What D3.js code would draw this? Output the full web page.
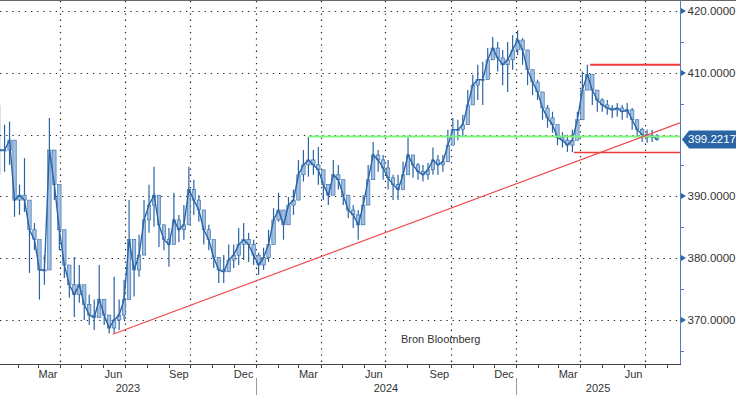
<!DOCTYPE html>
<html>
<head>
<meta charset="utf-8">
<script src="https://cdn.jsdelivr.net/npm/d3@7"></script>
<style>
body { margin: 0; background: #fff; }
svg { display: block; font-family: "Liberation Sans", Arial, sans-serif; }
</style>
</head>
<body>
<svg width="736" height="395"></svg>
<script>
// weekly bars, first week ends Fri 6 Jan 2023
var firstWeek = new Date(2023, 0, 6);
var highs = [404.8,401.6,402.1,393.5,391.9,396.2,388.6,385.7,381.7,380.5,
	402.7,396.7,389.4,382.2,378.1,380.2,378.9,375.2,374.1,373.3,
	378.9,373.3,370.8,377.0,373.3,376.5,389.4,383.0,383.8,389.4,
	391.9,394.8,390.2,385.4,384.9,390.6,387.0,388.6,394.8,392.7,
	390.2,387.0,385.4,382.2,380.1,380.5,382.2,382.2,384.9,385.7,
	384.1,383.0,380.9,381.7,384.6,388.1,390.6,387.8,389.9,391.1,
	395.9,397.5,399.6,397.5,398.0,394.3,391.9,395.9,395.1,392.7,
	390.2,388.6,387.8,390.2,395.1,398.8,397.5,396.7,395.9,393.5,
	393.5,395.6,399.5,396.7,395.4,395.1,395.4,397.9,396.7,396.7,
	400.8,402.7,402.4,403.2,407.2,409.7,411.3,411.8,414.0,415.8,
	415.0,413.7,415.0,416.1,416.9,415.6,412.9,410.5,408.9,406.9,
	404.8,403.7,400.8,400.4,400.0,400.8,403.7,410.2,411.3,409.7,
	407.2,405.9,405.6,404.8,405.1,404.8,405.1,404.3,402.4,401.1,
	400.8,400.8,400.1];
var lows = [393.5,394.0,395.1,386.7,387.0,387.5,377.6,381.3,373.3,375.7,
	383.0,389.4,381.3,376.8,373.6,370.5,372.8,370.0,369.2,368.4,
	370.8,369.2,367.8,367.9,368.4,370.0,373.8,373.8,377.0,381.3,
	384.1,385.1,381.8,381.3,378.6,383.0,382.6,383.0,387.0,387.0,
	385.9,382.2,381.3,378.4,376.0,376.0,377.8,378.4,378.9,379.7,
	379.4,378.9,377.3,378.1,379.4,383.0,385.9,383.0,386.5,387.0,
	390.2,392.4,393.2,393.5,391.9,389.4,388.6,391.1,391.1,388.6,
	386.5,384.9,383.0,385.4,389.4,394.3,394.0,392.7,391.1,389.4,
	389.4,391.1,394.3,393.0,392.7,392.4,392.7,393.5,393.5,394.0,
	395.9,398.7,399.1,399.6,403.2,405.6,405.6,404.8,408.9,412.1,
	410.2,408.0,406.9,410.5,412.9,411.3,408.0,406.4,405.6,402.4,
	401.1,400.3,398.3,397.9,397.2,397.2,400.0,404.3,407.6,404.8,
	403.7,403.7,403.2,402.7,402.9,402.4,402.7,400.8,399.6,398.8,
	398.7,398.8,399.0];
var closes = [397.5,397.5,399.1,389.4,390.2,389.4,384.6,383.0,378.1,378.1,
	397.5,391.9,384.6,378.9,375.7,374.1,375.7,372.5,370.8,370.4,
	373.3,370.8,368.7,370.0,370.8,373.3,383.0,378.1,380.5,386.2,
	388.6,390.2,385.4,383.0,382.2,386.2,384.6,385.4,391.1,389.4,
	387.8,384.6,383.0,380.1,378.1,377.8,379.7,380.5,382.2,383.0,
	382.2,380.5,378.9,380.1,382.2,386.2,387.8,385.4,388.6,389.4,
	393.5,395.1,395.9,395.1,394.3,391.9,390.2,393.5,392.7,390.2,
	387.8,387.0,385.4,388.6,392.7,396.7,395.9,394.6,393.0,391.9,
	391.1,393.5,396.7,395.1,394.0,393.5,394.3,395.9,395.1,395.6,
	398.3,400.8,400.8,401.6,404.8,408.0,408.9,408.9,412.1,414.0,
	412.4,411.3,412.1,413.7,415.3,413.7,410.5,408.5,406.9,404.3,
	402.7,401.6,399.5,399.1,398.3,399.1,402.4,407.2,409.7,407.2,
	405.6,404.8,404.3,404.0,404.3,403.7,404.0,402.4,400.8,400.0,
	399.6,399.8,399.2217];
var yTicks = [370, 380, 390, 400, 410, 420];
var yMinor = [365, 375, 385, 395, 405, 415];
var labelMonths = [2, 5, 8, 11];
var lastPrice = 399.2217;
var trend = [{date: new Date(2023, 5, 14), value: 367.7}, {date: new Date(2025, 7, 19), value: 401.9}];
var support = {start: new Date(2024, 2, 15), value: 399.7};
var resistHigh = {start: new Date(2025, 3, 15), value: 411.3};
var resistLow = {start: new Date(2025, 2, 23), value: 397.1};

var svg = d3.select("svg"),
	plotW = 680,
	plotH = 364,
	dark = "#2a64a6",
	light = "#a3c0e1";

var x = d3.scaleTime()
	.domain([new Date(2023, 0, 6, 14), new Date(2025, 7, 19, 5)])
	.range([0, plotW]);
var y = d3.scaleLinear()
	.domain([362.88, 421.78])
	.range([plotH, 0]);

// grid
var grid = svg.append("g")
	.attr("stroke", "#222")
	.attr("stroke-width", 1.2)
	.attr("stroke-dasharray", "1.3,4.9");
grid.selectAll("line.h")
	.data(yTicks)
	.enter().append("line")
	.attr("x1", 0).attr("x2", plotW)
	.attr("y1", function(d){ return Math.round(y(d)) + 0.5; })
	.attr("y2", function(d){ return Math.round(y(d)) + 0.5; });

var months = d3.timeMonth.range(x.domain()[0], x.domain()[1]);
var quarters = months.filter(function(d){ return d.getMonth() % 3 === 0; });
grid.selectAll("line.v")
	.data(quarters)
	.enter().append("line")
	.attr("x1", function(d){ return Math.round(x(d)) + 0.5; })
	.attr("x2", function(d){ return Math.round(x(d)) + 0.5; })
	.attr("y1", 1).attr("y2", plotH);

// top border
svg.append("line")
	.attr("x1", 0).attr("x2", 736)
	.attr("y1", 0.5).attr("y2", 0.5)
	.attr("stroke", "#666");

// price bars
var bars = closes.map(function(c, i){
	return {
		date: d3.timeWeek.offset(firstWeek, i),
		open: i === 0 ? c : closes[i - 1],
		close: c,
		high: highs[i],
		low: lows[i]
	};
});

var barG = svg.append("g");
barG.selectAll("line")
	.data(bars)
	.enter().append("line")
	.attr("x1", function(d){ return x(d.date); })
	.attr("x2", function(d){ return x(d.date); })
	.attr("y1", function(d){ return y(d.high); })
	.attr("y2", function(d){ return y(d.low); })
	.attr("stroke", dark)
	.attr("stroke-width", 1.2);
barG.selectAll("rect")
	.data(bars)
	.enter().append("rect")
	.attr("x", function(d){ return x(d.date) - 1.7; })
	.attr("width", 3.4)
	.attr("y", function(d){ return y(Math.max(d.open, d.close)); })
	.attr("height", function(d){ return Math.max(1, Math.abs(y(d.open) - y(d.close))); })
	.attr("fill", light)
	.attr("stroke", dark)
	.attr("stroke-width", 0.6);

svg.append("path")
	.datum(bars)
	.attr("fill", "none")
	.attr("stroke", dark)
	.attr("stroke-width", 1.4)
	.attr("d", d3.line()
		.x(function(d){ return x(d.date); })
		.y(function(d){ return y(d.close); }));

// annotations
svg.append("line")
	.attr("x1", x(support.start)).attr("x2", plotW)
	.attr("y1", y(support.value)).attr("y2", y(support.value))
	.attr("stroke", "#7cf57c").attr("stroke-width", 2);
svg.append("line")
	.attr("x1", x(resistHigh.start)).attr("x2", plotW)
	.attr("y1", y(resistHigh.value)).attr("y2", y(resistHigh.value))
	.attr("stroke", "#f03a3a").attr("stroke-width", 2);
svg.append("line")
	.attr("x1", x(resistLow.start)).attr("x2", plotW)
	.attr("y1", y(resistLow.value)).attr("y2", y(resistLow.value))
	.attr("stroke", "#f03a3a").attr("stroke-width", 1.4);
svg.append("path")
	.datum(trend)
	.attr("fill", "none")
	.attr("stroke", "#f24a4a")
	.attr("stroke-width", 1.2)
	.attr("d", d3.line()
		.x(function(d){ return x(d.date); })
		.y(function(d){ return y(d.value); }));

// right axis
var axisCol = "#4f7fbf";
svg.append("line")
	.attr("x1", plotW + 0.5).attr("x2", plotW + 0.5)
	.attr("y1", 0).attr("y2", plotH)
	.attr("stroke", axisCol);
svg.selectAll("line.minor")
	.data(yMinor)
	.enter().append("line")
	.attr("x1", plotW).attr("x2", plotW + 4)
	.attr("y1", function(d){ return Math.round(y(d)) + 0.5; })
	.attr("y2", function(d){ return Math.round(y(d)) + 0.5; })
	.attr("stroke", axisCol);
var yt = svg.selectAll("g.ytick")
	.data(yTicks.filter(function(d){ return d !== 400; }))
	.enter().append("g")
	.attr("transform", function(d){ return "translate(" + plotW + "," + Math.round(y(d)) + ")"; });
yt.append("path")
	.attr("d", "M1,-3L6,0L1,3Z")
	.attr("fill", "#2b66a8");
yt.append("text")
	.attr("x", 7.5)
	.attr("dy", "0.35em")
	.attr("font-size", 11.5)
	.attr("fill", "#333")
	.text(function(d){ return d3.format(".4f")(d); });

// last price tag
var ly = y(lastPrice);
svg.append("path")
	.attr("d", "M" + (plotW + 2) + "," + ly + "L" + (plotW + 9) + "," + (ly - 9) +
		"H736V" + (ly + 9) + "H" + (plotW + 9) + "Z")
	.attr("fill", "#2a65a6");
svg.append("text")
	.attr("x", plotW + 8)
	.attr("y", ly)
	.attr("dy", "0.35em")
	.attr("font-size", 11.5)
	.attr("fill", "#fff")
	.text(d3.format(".4f")(lastPrice));

// bottom axis
svg.append("line")
	.attr("x1", 0).attr("x2", plotW + 1)
	.attr("y1", plotH + 0.5).attr("y2", plotH + 0.5)
	.attr("stroke", "#444");
svg.selectAll("line.mtick")
	.data(months)
	.enter().append("line")
	.attr("x1", function(d){ return Math.round(x(d)) + 0.5; })
	.attr("x2", function(d){ return Math.round(x(d)) + 0.5; })
	.attr("y1", plotH).attr("y2", plotH + 4)
	.attr("stroke", "#444");
svg.selectAll("text.month")
	.data(months.filter(function(d){ return labelMonths.indexOf(d.getMonth()) >= 0; }))
	.enter().append("text")
	.attr("x", function(d){ return x(d3.timeDay.offset(d, 14)); })
	.attr("y", plotH + 14)
	.attr("text-anchor", "middle")
	.attr("font-size", 11)
	.attr("fill", "#333")
	.text(d3.timeFormat("%b"));

var yearStarts = d3.timeYear.range(x.domain()[0], x.domain()[1]);
svg.selectAll("line.ysep")
	.data(yearStarts)
	.enter().append("line")
	.attr("x1", function(d){ return Math.round(x(d)) + 0.5; })
	.attr("x2", function(d){ return Math.round(x(d)) + 0.5; })
	.attr("y1", plotH + 14).attr("y2", 395)
	.attr("stroke", "#999");
var yearSpans = [x.domain()[0]].concat(yearStarts).map(function(d, i, arr){
	var end = i + 1 < arr.length ? arr[i + 1] : x.domain()[1];
	return {year: d3.timeYear.floor(d3.timeDay.offset(d, 1)).getFullYear(), mid: (x(d) + x(end)) / 2};
});
svg.selectAll("text.year")
	.data(yearSpans)
	.enter().append("text")
	.attr("x", function(d){ return d.mid; })
	.attr("y", plotH + 28)
	.attr("text-anchor", "middle")
	.attr("font-size", 11)
	.attr("fill", "#333")
	.text(function(d){ return d.year; });

svg.append("text")
	.attr("x", 401)
	.attr("y", 343)
	.attr("font-size", 11)
	.attr("fill", "#333")
	.text("Bron Bloomberg");
</script>
</body>
</html>
